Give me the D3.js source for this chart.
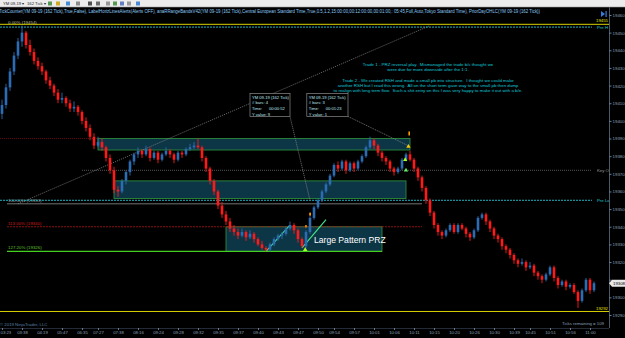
<!DOCTYPE html>
<html><head><meta charset="utf-8">
<script src="https://cdn.jsdelivr.net/npm/d3@7"></script>
<style>html,body{margin:0;padding:0;background:#000;overflow:hidden}svg{display:block}</style>
</head><body>
<script>
// ---------- DATA ----------
// candles [open, high, low, close] (YM 09-19, 162 tick)
const bars = [
[19404,19412,19401,19409],[19409,19421,19407,19419],[19419,19430,19417,19428],[19428,19439,19426,19437],
[19437,19447,19435,19445],[19445,19454,19442,19450],[19450,19451,19441,19443],[19443,19446,19437,19439],
[19439,19441,19432,19434],[19434,19436,19429,19431],[19431,19433,19426,19428],[19428,19429,19421,19423],
[19423,19425,19418,19420],[19420,19421,19414,19416],[19416,19418,19410,19412],[19412,19416,19410,19413],
[19413,19414,19408,19410],[19410,19412,19405,19407],[19407,19411,19405,19408],[19408,19409,19403,19405],
[19405,19406,19398,19400],[19400,19402,19394,19396],[19396,19398,19389,19391],[19391,19393,19384,19386],
[19386,19391,19385,19388],[19388,19390,19383,19385],[19385,19386,19377,19379],[19379,19381,19370,19372],
[19372,19374,19359,19361],[19361,19363,19357,19360],[19360,19367,19359,19366],[19366,19372,19364,19371],
[19371,19378,19369,19377],[19377,19382,19375,19381],[19381,19385,19379,19383],[19383,19384,19379,19381],
[19381,19386,19380,19384],[19384,19385,19377,19379],[19379,19383,19378,19382],[19382,19383,19376,19378],
[19378,19382,19377,19381],[19381,19385,19380,19383],[19383,19384,19379,19381],[19381,19382,19376,19378],
[19378,19383,19377,19382],[19382,19383,19379,19381],[19381,19385,19380,19384],[19384,19387,19383,19385],
[19385,19388,19384,19386],[19386,19390,19384,19385],[19385,19386,19377,19379],[19379,19380,19371,19373],
[19373,19374,19364,19366],[19366,19367,19358,19360],[19360,19361,19350,19352],[19352,19354,19345,19347],
[19347,19349,19341,19343],[19343,19345,19337,19339],[19339,19341,19335,19337],[19337,19339,19333,19335],
[19335,19339,19334,19337],[19337,19338,19332,19334],[19334,19338,19333,19336],[19336,19337,19331,19333],
[19333,19334,19329,19330],[19330,19332,19327,19328],[19328,19329,19326,19327],[19327,19331,19326,19330],
[19330,19334,19329,19333],[19333,19336,19332,19335],[19335,19337,19333,19336],[19336,19340,19335,19339],
[19339,19343,19338,19341],[19341,19342,19336,19338],[19338,19339,19331,19333],[19333,19334,19328,19329],
[19329,19338,19328,19337],[19337,19346,19336,19345],[19345,19352,19344,19351],[19351,19356,19350,19355],
[19355,19361,19354,19360],[19360,19365,19359,19364],[19364,19370,19363,19369],[19369,19376,19368,19375],
[19375,19377,19371,19373],[19373,19378,19372,19377],[19377,19378,19370,19372],[19372,19377,19371,19376],
[19376,19377,19371,19373],[19373,19378,19372,19377],[19377,19381,19376,19380],[19380,19386,19379,19385],
[19385,19391,19384,19389],[19389,19390,19384,19386],[19386,19387,19380,19382],[19382,19383,19377,19379],
[19379,19380,19375,19377],[19377,19378,19371,19373],[19373,19374,19369,19371],[19371,19374,19370,19373],
[19373,19379,19372,19378],[19378,19382,19377,19381],[19381,19383,19377,19378],[19378,19379,19371,19373],
[19373,19374,19366,19368],[19368,19369,19360,19362],[19362,19363,19353,19355],[19355,19356,19346,19348],
[19348,19349,19339,19341],[19341,19342,19335,19337],[19337,19338,19333,19335],[19335,19339,19334,19338],
[19338,19342,19337,19341],[19341,19342,19336,19337],[19337,19342,19336,19341],[19341,19342,19338,19339],
[19339,19340,19334,19336],[19336,19337,19332,19334],[19334,19339,19333,19338],[19338,19346,19337,19345],
[19345,19348,19344,19347],[19347,19348,19341,19343],[19343,19344,19337,19339],[19339,19340,19333,19335],
[19335,19336,19331,19333],[19333,19334,19327,19329],[19329,19330,19325,19327],[19327,19328,19322,19324],
[19324,19325,19319,19321],[19321,19322,19317,19319],[19319,19322,19318,19320],[19320,19321,19315,19317],
[19317,19320,19316,19318],[19318,19319,19312,19314],[19314,19315,19310,19312],[19312,19313,19308,19310],
[19310,19314,19309,19313],[19313,19318,19312,19317],[19317,19318,19309,19311],[19311,19312,19305,19307],
[19307,19310,19306,19309],[19309,19310,19304,19306],[19306,19308,19305,19307],[19307,19308,19302,19303],
[19303,19304,19294,19298],[19298,19305,19297,19304],[19304,19311,19303,19310],[19310,19311,19302,19304],
[19304,19309,19303,19308]
];
const yTicks = [19290,19300,19310,19320,19330,19340,19350,19360,19370,19380,19390,19400,19410,19420,19430,19440,19450,19460];
const timeTickIdx = [0,5,10,15,20,24,29,34,39,44,49,54,59,64,69,74,79,83,88,93,98,103,108,113,118,123,128,132,137,142,147];
const timeLabels = ["03:23","03:38","04:19","05:47","06:35","07:27","07:38","08:16","09:24","09:28","09:32","09:35","09:37","09:40","09:43","09:47","09:50","09:54","09:57","10:01","10:06","10:11","10:15","10:20","10:26","10:30","10:39","10:45","10:51","10:56","11:00"];
// horizontal levels
const priorHigh = 19454, priorLow = 19355, keyOpen = 19372, dayHigh = 19455, dayLow = 19292, lastPrice = 19308;
const fibLabels = ["0.00% (19454)","100.00% (19353)","113.00% (19340)","127.20% (19326)"];
const fibPrices = [19454, 19353, 19340, 19326];
// zones [startBar, endBar, topPrice, bottomPrice]
const zones = [[24,102,19390,19383.5],[28,101,19366,19356],[56,95,19340,19326]];
const tradeNotes = [
 "Trade 1 - PRZ reversal play.  Mismanaged the trade b/c thought we",
 "were due for more downside after the 1:1.",
 "Trade 2 - We created RSH and made a small pb into structure.  I thought we could make",
 "another RSH but I read this wrong.  All on the short term gave way to the small pb then dump",
 "to realign with long term flow.  Such a shit entry on this I was very happy to make it out with a b/e."
];
const infoBoxes = [
 ["YM 09-19 (162 Tick)","# bars: 4","Time:      00:00:52","Y value: 9"],
 ["YM 09-19 (162 Tick)","# bars: 3","Time:      00:01:23","Y value: 1"]
];
const header = "TickCounter(YM 09-19 (162 Tick),True,False), LabelHorizLinesAlerts(Alerts OFF), anaRRangeBandsV42(YM 09-19 (162 Tick),Central European Standard Time,True,0.5,1.2,15:00:00,00:12:00:00,00:01:00,: 05:45,Full,Auto,Tokyo Standard Time), PriorDayOHLC(YM 09-19 (162 Tick))";

// ---------- SCALES ----------
const W = 625, H = 338;
const x = d3.scaleLinear().domain([0, 148]).range([2, 594]);
const y = d3.scaleLinear().domain([19290, 19460]).range([315, 15]);
const FONT = "Liberation Sans, Arial, sans-serif";

const svg = d3.select("body").append("svg").attr("width", W).attr("height", H)
  .style("font-family", FONT);
svg.append("rect").attr("width", W).attr("height", H).attr("fill", "#000");

// toolbar
svg.append("rect").attr("x",0).attr("y",0).attr("width",W).attr("height",7).attr("fill","#ececec");
svg.append("line").attr("x1",0).attr("x2",W).attr("y1",7).attr("y2",7).attr("stroke","#9a9a9a").attr("stroke-width",0.6);
const tb = svg.append("g").attr("font-size",4.2).attr("fill","#222");
tb.append("text").attr("x",3).attr("y",5).text("YM 09-19 ▾");
tb.append("text").attr("x",27).attr("y",5).text("162 Tick ▾");
const iconColors = ["#3a8a3a","#c8a000","#2a7ad0","#7a7a7a","#333","#555","#888","#3a8a3a","#4a6ac0","#888","#2a7ad0"];
[48,56,66,76,88,96,106,113,120,127,136].forEach((ix,k)=>{
  svg.append("rect").attr("x",ix).attr("y",1.5).attr("width",4).attr("height",4).attr("fill",iconColors[k]).attr("opacity",0.85);
});

// header
svg.append("text").attr("x",-1).attr("y",13).attr("font-size",4.6).attr("fill","#8cc8f0")
  .attr("textLength",541).attr("lengthAdjust","spacingAndGlyphs").text(header);

// zones
zones.forEach(z=>{
  svg.append("rect").attr("x",x(z[0])).attr("y",y(z[2])).attr("width",x(z[1])-x(z[0])).attr("height",y(z[3])-y(z[2]))
    .attr("fill","#0c3646").attr("stroke","#2c8a3c").attr("stroke-width",0.9);
});

// prior-day dotted dark-red level at upper zone
svg.append("line").attr("x1",0).attr("x2",x(24)).attr("y1",y(19390)).attr("y2",y(19390))
  .attr("stroke","#8a1010").attr("stroke-width",0.7).attr("stroke-dasharray","1,1");

// long trend line
svg.append("line").attr("x1",x(4)).attr("y1",y(19353)).attr("x2",x(107)).attr("y2",y(19454))
  .attr("stroke","#8a8a8a").attr("stroke-width",0.7).attr("stroke-dasharray","1.2,1");

// fib lines
const fibColors = ["#b4b48a","#909090","#b01010","#44d020"];
const fibText = ["#b8b890","#9a9a9a","#d01a1a","#60c030"];
fibPrices.forEach((p,k)=>{
  if(k===0) return;
  svg.append("line").attr("x1",7).attr("x2",x(k===3?95:105)).attr("y1",y(p)).attr("y2",y(p))
    .attr("stroke",fibColors[k]).attr("stroke-width",k===3?1.2:0.8).attr("stroke-dasharray",k===2?"2,1":null);
});
fibLabels.forEach((t,k)=>{
  svg.append("text").attr("x",8).attr("y",y(fibPrices[k])-2).attr("font-size",4.4).attr("fill",fibText[k]).text(t);
});

// day high / low yellow lines and prior high/low / key open
svg.append("line").attr("x1",0).attr("x2",609).attr("y1",y(dayHigh)+0.5).attr("y2",y(dayHigh)+0.5).attr("stroke","#d8d000").attr("stroke-width",1);
svg.append("line").attr("x1",0).attr("x2",609).attr("y1",y(dayLow)).attr("y2",y(dayLow)).attr("stroke","#d8d000").attr("stroke-width",1);
svg.append("line").attr("x1",0).attr("x2",592).attr("y1",y(priorHigh)+1.5).attr("y2",y(priorHigh)+1.5).attr("stroke","#22c8d8").attr("stroke-width",0.9).attr("stroke-dasharray","2,1");
svg.append("line").attr("x1",0).attr("x2",592).attr("y1",y(priorLow)).attr("y2",y(priorLow)).attr("stroke","#22c8d8").attr("stroke-width",0.9).attr("stroke-dasharray","2,1");
svg.append("line").attr("x1",x(20)).attr("x2",592).attr("y1",y(keyOpen)).attr("y2",y(keyOpen)).attr("stroke","#7a7a7a").attr("stroke-width",0.7).attr("stroke-dasharray","1,1");

const rl = svg.append("g").attr("font-size",4.3);
rl.append("text").attr("x",608).attr("y",y(dayHigh)-1.5).attr("text-anchor","end").attr("fill","#e0e000").text(String(dayHigh));
rl.append("text").attr("x",597).attr("y",y(priorHigh)+3.2).attr("fill","#22c8d8").text("Pre H");
rl.append("text").attr("x",597).attr("y",y(keyOpen)+1.5).attr("fill","#9a9a9a").text("Key O");
rl.append("text").attr("x",597).attr("y",y(priorLow)+1.5).attr("fill","#22c8d8").text("Pre Lo");
rl.append("text").attr("x",608).attr("y",y(dayLow)-1.5).attr("text-anchor","end").attr("fill","#e0e000").text(String(dayLow));

// PRZ trend helper lines (bright green)
svg.append("line").attr("x1",x(66)).attr("y1",y(19326)).attr("x2",x(72)).attr("y2",y(19341)).attr("stroke","#44e888").attr("stroke-width",1.1);
svg.append("line").attr("x1",x(75)).attr("y1",y(19328)).attr("x2",x(81)).attr("y2",y(19344)).attr("stroke","#44e888").attr("stroke-width",1.1);

// candles
const cg = svg.append("g");
bars.forEach((b,i)=>{
  const up = b[3] >= b[0];
  const col = up ? "#2b6cb4" : "#ff1a1a";
  cg.append("line").attr("x1",x(i)).attr("x2",x(i)).attr("y1",y(b[1])).attr("y2",y(b[2])).attr("stroke",col).attr("stroke-width",0.9);
  const top = y(Math.max(b[0],b[3])), bot = y(Math.min(b[0],b[3]));
  cg.append("rect").attr("x",x(i)-1.3).attr("y",top).attr("width",2.6).attr("height",Math.max(0.8,bot-top)).attr("fill",col);
});

// trade markers
svg.append("rect").attr("x",x(77)-0.8).attr("y",y(19348)).attr("width",1.8).attr("height",3).attr("fill","#ff9900");
svg.append("rect").attr("x",x(76)-0.8).attr("y",y(19341)).attr("width",1.5).attr("height",2.5).attr("fill","#ff9900");
svg.append("path").attr("d",d3.symbol(d3.symbolTriangle,9)).attr("transform",`translate(${x(75.8)},${y(19327)})`).attr("fill","#aaff22");
svg.append("path").attr("d",d3.symbol(d3.symbolTriangle,8)).attr("transform",`translate(${x(101.6)},${y(19385.5)})`).attr("fill","#ffcc00");
svg.append("rect").attr("x",x(101.8)-0.8).attr("y",y(19394)).attr("width",1.6).attr("height",4).attr("fill","#ff9900");
svg.append("path").attr("d",d3.symbol(d3.symbolTriangle,8)).attr("transform",`translate(${x(100.8)},${y(19378)})`).attr("fill","#aaff22");
svg.append("path").attr("d",d3.symbol(d3.symbolTriangle,8)).attr("transform",`translate(${x(101)},${y(19372)})`).attr("fill","#66ee66");

// info boxes with connector lines
const boxDefs = [[62,72,19415.5,19402.5],[76.2,86.5,19415.5,19402.5]];
svg.append("line").attr("x1",x(72)).attr("y1",y(19402.5)).attr("x2",x(77)).attr("y2",y(19355)).attr("stroke","#8a8a8a").attr("stroke-width",0.7).attr("stroke-dasharray","1.2,0.8");
svg.append("line").attr("x1",x(86.5)).attr("y1",y(19402.5)).attr("x2",x(101.5)).attr("y2",y(19386)).attr("stroke","#8a8a8a").attr("stroke-width",0.7).attr("stroke-dasharray","1.2,0.8");
boxDefs.forEach((bd,k)=>{
  svg.append("rect").attr("x",x(bd[0])).attr("y",y(bd[2])).attr("width",x(bd[1])-x(bd[0])).attr("height",y(bd[3])-y(bd[2]))
    .attr("fill","#000").attr("stroke","#8a8a8a").attr("stroke-width",0.7);
  infoBoxes[k].forEach((t,j)=>{
    svg.append("text").attr("x",x(bd[0])+2).attr("y",y(bd[2])+5.2+j*5.6).attr("font-size",4.1).attr("fill","#bfe8f0").attr("xml:space","preserve").text(t);
  });
});

// PRZ label
svg.append("text").attr("x",x(78)).attr("y",y(19331)).attr("font-size",8.6).attr("fill","#ffffff").text("Large Pattern PRZ");

// trade notes
const noteY = [65.5,70.5,82,87,92];
tradeNotes.forEach((t,k)=>{
  svg.append("text").attr("x",428).attr("y",noteY[k]).attr("text-anchor","middle").attr("font-size",4.4)
    .attr("fill","#10c8d8").attr("xml:space","preserve").text(t);
});

// right price axis (label under the last-price marker is hidden, as in the platform)
const ax = svg.append("g").attr("transform","translate(609,0)").call(
  d3.axisRight(y).tickValues(yTicks).tickSize(2.5).tickFormat(d=> Math.abs(d-lastPrice)<4 ? "" : d3.format("d")(d)));
ax.select(".domain").attr("stroke","#4a5a6a").attr("d","M0.5,7V328");
ax.selectAll(".tick line").attr("stroke","#6a7a8a");
ax.selectAll(".tick text").attr("fill","#8aa0b8").attr("font-size",4.4).attr("x",3.5).attr("font-family",FONT);

// last price marker
const lp = svg.append("g");
lp.append("path").attr("d",`M609,${y(lastPrice)} L612,${y(lastPrice)-3.5} L625,${y(lastPrice)-3.5} L625,${y(lastPrice)+3.5} L612,${y(lastPrice)+3.5} Z`).attr("fill","#e8e8e8");
lp.append("text").attr("x",613).attr("y",y(lastPrice)+1.6).attr("font-size",4.3).attr("fill","#000").text(String(lastPrice));

// top-right icon
svg.append("path").attr("d","M601,11 L605,14 L601,17 Z").attr("fill","#3a7ad8");
svg.append("rect").attr("x",605.5).attr("y",11).attr("width",1.2).attr("height",6).attr("fill","#3a7ad8");

// time axis
svg.append("line").attr("x1",0).attr("x2",609).attr("y1",328.5).attr("y2",328.5).attr("stroke","#3a4a5a").attr("stroke-width",0.6);
const tx = svg.append("g").attr("transform","translate(0,328)").call(
  d3.axisBottom(x).tickValues(timeTickIdx).tickSize(2).tickFormat((d,i)=>timeLabels[i]));
tx.select(".domain").remove();
tx.selectAll(".tick line").attr("stroke","#6a7a8a");
tx.selectAll(".tick text").attr("fill","#8aa0b8").attr("font-size",4.3).attr("y",3).attr("font-family",FONT)
  .attr("text-anchor",(d,i)=> i===0 ? "start" : "middle").attr("dx",(d,i)=> i===0 ? -2 : 0);

// footer texts
svg.append("text").attr("x",0).attr("y",326).attr("font-size",4.3).attr("fill","#5a80a8").text("© 2019 NinjaTrader, LLC");
svg.append("text").attr("x",562).attr("y",324.5).attr("font-size",4.3).attr("fill","#8aa0b8").text("Ticks remaining = 109");
</script>
</body></html>
